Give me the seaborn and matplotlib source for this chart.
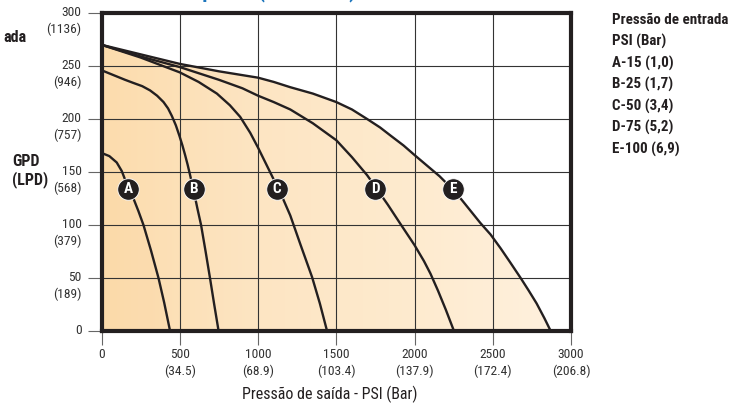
import matplotlib
matplotlib.use('Agg')
import matplotlib.pyplot as plt
import matplotlib.transforms as mtransforms
from matplotlib.colors import LinearSegmentedColormap
import numpy as np
import pandas as pd
import seaborn as sns

# flow curves: outlet pressure (psi) -> flow (gpd)
curve_names = ['A', 'B', 'C', 'D', 'E']
curve_a_psi = [0, 50, 97, 129, 150, 172, 204, 236, 268, 316, 364, 400, 438]
curve_a_gpd = [168, 165, 159, 151, 143, 134, 125, 113, 100, 76, 50, 27, 0]
curve_b_psi = [0, 50, 100, 150, 204, 260, 310, 355, 396, 425, 449, 475, 498, 517, 534,
               550, 566, 588, 612, 636, 665, 693, 720, 748]
curve_b_gpd = [246, 243, 240, 237, 234, 231, 227, 222, 216, 210, 203, 194, 184, 175, 166,
               157, 147, 133, 116, 100, 75, 50, 25, 0]
curve_c_psi = [0, 250, 500, 620, 737, 820, 886, 950, 1000, 1050, 1100, 1153, 1206, 1270,
               1345, 1395, 1441]
curve_c_gpd = [270, 258, 244, 235, 224, 213, 202, 187, 173, 158, 143, 127, 109, 82,
               51, 26, 0]
curve_d_psi = [0, 250, 500, 750, 900, 1000, 1100, 1206, 1350, 1500, 1600, 1697, 1750, 1830,
               1910, 2000, 2060, 2102, 2150, 2200, 2252]
curve_d_gpd = [270, 259, 249, 237, 229, 222, 216, 209, 196, 180, 164, 147, 136, 119,
               101, 81, 66, 54, 38, 20, 0]
curve_e_psi = [0, 250, 500, 750, 1000, 1100, 1206, 1350, 1500, 1600, 1697, 1780, 1850, 1930,
               2000, 2080, 2160, 2241, 2300, 2360, 2420, 2486, 2550, 2610, 2678, 2730, 2780,
               2830, 2870]
curve_e_gpd = [270, 261, 252, 245, 239, 235, 230, 224, 216, 209, 200, 192, 184, 175,
               166, 156, 146, 134, 124, 113, 102, 91, 78, 65, 50, 38, 26, 12, 0]

# where the letter badges sit on each curve
badge_psi = [172, 588, 1121, 1750, 2243]
badge_gpd = [134, 134, 134, 134, 134]

# inlet pressure legend
inlet_psi = [15, 25, 50, 75, 100]
inlet_bar = ['1,0', '1,7', '3,4', '5,2', '6,9']

# axis ticks
gpd_ticks = [0, 50, 100, 150, 200, 250, 300]
lpd_ticks = ['', '189', '379', '568', '757', '946', '1136']
psi_ticks = [0, 500, 1000, 1500, 2000, 2500, 3000]
bar_ticks = ['', '34.5', '68.9', '103.4', '137.9', '172.4', '206.8']

curves_psi = [curve_a_psi, curve_b_psi, curve_c_psi, curve_d_psi, curve_e_psi]
curves_gpd = [curve_a_gpd, curve_b_gpd, curve_c_gpd, curve_d_gpd, curve_e_gpd]
df = pd.concat([pd.DataFrame({'curve': n, 'psi': p, 'gpd': g})
                for n, p, g in zip(curve_names, curves_psi, curves_gpd)])

sns.set_theme(style='white')
plt.rcParams['font.family'] = ['Roboto Condensed', 'Open Sans Condensed', 'DejaVu Sans']
plt.rcParams['font.stretch'] = 'condensed'
ink = '#231f20'

fig = plt.figure(figsize=(7.4, 4.08), dpi=100)
ax = fig.add_axes([0.1372, 0.1887, 0.6345, 0.7794])

# shaded area under the outer curve, light orange gradient left -> right
shade = ax.fill_between(curve_e_psi, curve_e_gpd, 0, facecolor='none', edgecolor='none')
cmap = LinearSegmentedColormap.from_list('peach', ['#fcdcad', '#fde5c3', '#feebcf', '#fff1df'])
grad = np.linspace(0, 1, 256)[None, :]
img = ax.imshow(grad, extent=[0, 3000, 0, 300], aspect='auto', cmap=cmap, zorder=0.5)
img.set_clip_path(shade.get_paths()[0], transform=ax.transData)
ax.fill_between(curve_a_psi, curve_a_gpd, 0, color='#fbd39e', alpha=0.2, lw=0, zorder=0.6)

sns.lineplot(data=df, x='psi', y='gpd', units='curve', estimator=None, sort=False,
             color=ink, lw=1.7, ax=ax, zorder=3)

ax.scatter(badge_psi, badge_gpd, s=240, color=ink, zorder=4, edgecolor='white', linewidth=0.6)
for name, bx, by in zip(curve_names, badge_psi, badge_gpd):
    ax.text(bx, by, name, color='white', fontsize=11, fontweight='bold',
            ha='center', va='center', zorder=5)

ax.set_xlim(0, 3000)
ax.set_ylim(0, 300)
ax.set_xticks(psi_ticks, labels=[])
ax.set_yticks(gpd_ticks, labels=[])
ax.grid(True, color='#333333', lw=0.8)
ax.set_axisbelow(False)
ax.set_xlabel('')
ax.set_ylabel('')
ax.tick_params(left=True, bottom=True, direction='out', length=10, width=0.8,
               color='#666666', pad=2)
for sp in ax.spines.values():
    sp.set_color(ink)
    sp.set_linewidth(3)
    sp.set_zorder(6)

ytrans = mtransforms.offset_copy(ax.get_yaxis_transform(), fig=fig, x=-20, y=7, units='dots')
for v, lpd in zip(gpd_ticks, lpd_ticks):
    txt = f'{v}\n({lpd})' if lpd else f'{v}'
    ax.text(0, v, txt, transform=ytrans, ha='right', va='top', fontsize=9.7,
            color='#333333', linespacing=1.35)

xtrans = mtransforms.offset_copy(ax.get_xaxis_transform(), fig=fig, x=0, y=-17, units='dots')
for v, bar in zip(psi_ticks, bar_ticks):
    txt = f'{v}\n({bar})' if bar else f'{v}'
    ax.text(v, 0, txt, transform=xtrans, ha='center', va='top', fontsize=9.7,
            color='#333333', linespacing=1.3)

fig.text(330 / 740, 1 - 394 / 408, 'Pressão de saída - PSI (Bar)', ha='center', va='center',
         fontsize=11.5, color=ink)
fig.text(12 / 740, 1 - 171 / 408, 'GPD\n(LPD)', ha='left', va='center', fontsize=11.5,
         fontweight='bold', color=ink, linespacing=1.15)
fig.text(27 / 740, 1 - 38 / 408, 'ada', ha='right', va='center', fontsize=11.5,
         fontweight='bold', color=ink)

# legend block on the right
legend_lines = ['Pressão de entrada', 'PSI (Bar)'] + [
    f'{n}-{p} ({b})' for n, p, b in zip(curve_names, inlet_psi, inlet_bar)]
for i, line in enumerate(legend_lines):
    fig.text(612 / 740, 1 - (20 + 21.5 * i) / 408, line, ha='left', va='center',
             fontsize=10.8, fontweight='bold', color=ink)

# title, mostly cut off by the top edge
fig.text(356 / 740, 1 + 3 / 408, 'Curva de desempenho (GPD x PSI)', ha='right', va='baseline',
         fontsize=15, fontweight='bold', color='#1c75bc')

fig.savefig('out.png', dpi=100)
